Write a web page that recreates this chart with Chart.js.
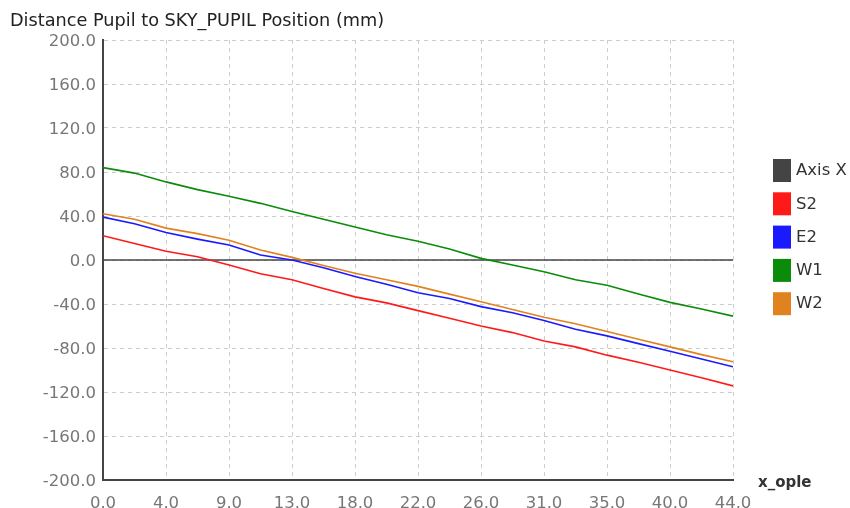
<!DOCTYPE html>
<html>
<head>
<meta charset="utf-8">
<script src="https://cdn.jsdelivr.net/npm/chart.js@4"></script>
<style>
  body { margin: 0; background: #fff; }
</style>
</head>
<body>
<canvas id="myChart" width="850" height="508"></canvas>
<script>
/* Chart values */
var xValues = [0, 2.2, 4.4, 6.6, 8.8, 11, 13.2, 15.4, 17.6, 19.8, 22, 24.2, 26.4, 28.6, 30.8, 33, 35.2, 37.4, 39.6, 41.8, 44];
var s2 = [22, 15, 8, 3, -4.5, -12.5, -18, -26, -33.5, -39, -46, -53, -60, -66, -73.6, -79, -86.5, -93, -100, -107, -114.5];
var e2 = [39, 33, 25, 19, 13.6, 4.5, 0, -7, -15, -22, -29.7, -35, -42.4, -48, -55, -63, -69, -76, -83, -90, -97];
var w1 = [84, 79, 71, 64, 58, 51.5, 44, 37, 30, 23, 17, 10, 1.5, -4.5, -10.6, -18, -23, -31, -38.5, -44.5, -51];
var w2 = [42, 37, 29, 24, 18, 9, 2.4, -5, -12, -18, -24, -31, -38, -45, -52, -58, -65, -72, -79, -86, -92.5];
var axisX = [0, 0];
var axisXRange = [0, 44];

var xTicks = [0, 4.4, 8.8, 13.2, 17.6, 22, 26.4, 30.8, 35.2, 39.6, 44];
var yMin = -200, yMax = 200, yStep = 40;

var titleText = 'Distance Pupil to SKY_PUPIL Position (mm)';
var xTitle = 'x_ople';
var font = 'DejaVu Sans';

function points(xs, ys) {
    return xs.map(function (x, i) { return { x: x, y: ys[i] }; });
}

function line(label, color, xs, ys, order) {
    return {
        label: label,
        data: points(xs, ys),
        borderColor: color,
        backgroundColor: color,
        borderWidth: 1.6,
        pointRadius: 0,
        tension: 0,
        order: order
    };
}

const data = {
    datasets: [
        line('Axis X', '#444444', axisXRange, axisX, 10),
        line('S2', '#ff1a1a', xValues, s2, 1),
        line('E2', '#1a1aff', xValues, e2, 1),
        line('W1', '#0a8c0a', xValues, w1, 1),
        line('W2', '#e0821e', xValues, w2, 1)
    ]
};

/* Title, x axis name and legend drawn by hand */
const extras = {
    id: 'extras',
    afterDraw: function (chart) {
        var ctx = chart.ctx;
        ctx.save();
        ctx.textAlign = 'left';
        ctx.textBaseline = 'alphabetic';
        ctx.fillStyle = '#222';
        ctx.font = '17.7px "' + font + '"';
        ctx.fillText(titleText, 10, 26);

        ctx.font = 'bold 15px "' + font + '"';
        ctx.fillStyle = '#333';
        ctx.fillText(xTitle, 758, 487);

        ctx.font = '16.5px "' + font + '"';
        ctx.textBaseline = 'middle';
        chart.data.datasets.forEach(function (ds, i) {
            var top = 159 + i * 33.3;
            ctx.fillStyle = ds.borderColor;
            ctx.fillRect(773, top, 18, 23);
            ctx.fillStyle = '#333';
            ctx.fillText(ds.label, 796, top + 12);
        });
        ctx.restore();
    }
};

const config = {
    type: 'line',
    data: data,
    options: {
        responsive: false,
        animation: false,
        layout: { padding: { left: 0, top: 40, right: 117, bottom: 0 } },
        plugins: {
            legend: { display: false },
            title: { display: false },
            tooltip: { enabled: false }
        },
        scales: {
            x: {
                type: 'linear',
                min: 0,
                max: 44,
                afterBuildTicks: function (scale) {
                    scale.ticks = xTicks.map(function (v) { return { value: v }; });
                },
                afterFit: function (scale) { scale.height = 28; },
                grid: { color: '#cccccc', lineWidth: 1, drawTicks: false },
                border: { display: true, color: '#444', width: 2, dash: [4, 4] },
                ticks: {
                    color: '#777',
                    font: { family: font, size: 16.5 },
                    padding: 14,
                    maxRotation: 0,
                    autoSkip: false,
                    callback: function (v) { return Math.round(v).toFixed(1); }
                }
            },
            y: {
                min: yMin,
                max: yMax,
                afterFit: function (scale) { scale.width = 103; },
                grid: { color: '#cccccc', lineWidth: 1, drawTicks: false },
                border: { display: true, color: '#444', width: 2, dash: [4, 4] },
                ticks: {
                    stepSize: yStep,
                    color: '#777',
                    font: { family: font, size: 16.5 },
                    padding: 7,
                    labelOffset: 2,
                    callback: function (v) { return v.toFixed(1); }
                }
            }
        }
    },
    plugins: [extras]
};

const myChart = new Chart(document.getElementById('myChart'), config);
</script>
</body>
</html>
